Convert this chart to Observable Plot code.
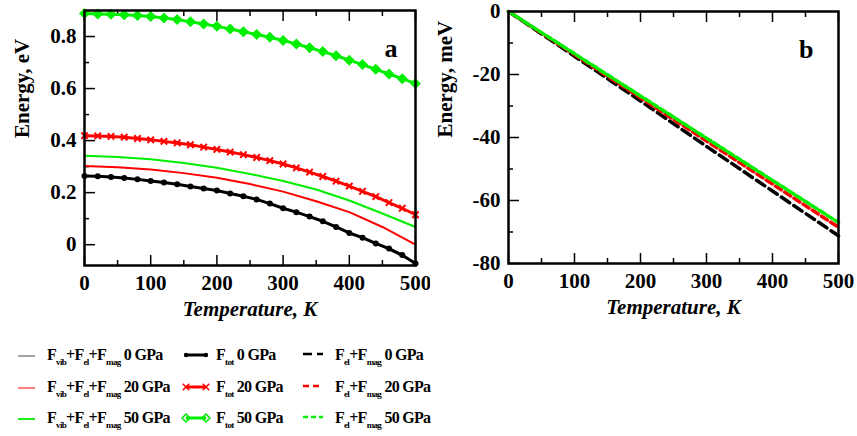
<!DOCTYPE html>
<html><head><meta charset="utf-8">
<script src="https://cdn.jsdelivr.net/npm/d3@7"></script>
<script src="https://cdn.jsdelivr.net/npm/@observablehq/plot@0.6"></script>
<style>
body{margin:0;background:#fff;}
#wrap{position:relative;width:857px;height:436px;background:#fff;overflow:hidden}
#a{position:absolute;left:0;top:0}
#b{position:absolute;left:430px;top:0}
#legend{position:absolute;left:0;top:0}
</style></head><body>
<div id="wrap"><div id="a"></div><div id="b"></div><svg id="legend" width="857" height="436"></svg></div>
<script>
// ---- Panel a data ----
const tMark = [0,20,40,60,80,100,120,140,160,180,200,220,240,260,280,300,320,340,360,380,400,420,440,460,480,500];
const ftot0  = [0.264,0.263,0.260,0.256,0.251,0.245,0.239,0.232,0.224,0.216,0.208,0.197,0.186,0.174,0.158,0.140,0.125,0.108,0.090,0.068,0.045,0.027,0.005,-0.015,-0.040,-0.072];
const ftot20 = [0.419,0.418,0.416,0.413,0.408,0.403,0.397,0.391,0.384,0.375,0.366,0.356,0.346,0.335,0.323,0.310,0.295,0.279,0.262,0.244,0.225,0.205,0.185,0.162,0.140,0.115];
const ftot50 = [0.888,0.887,0.886,0.884,0.881,0.877,0.871,0.865,0.857,0.848,0.839,0.829,0.818,0.808,0.797,0.785,0.771,0.757,0.742,0.726,0.709,0.692,0.674,0.656,0.638,0.619];
const tLine = [0,50,100,150,200,250,300,350,400,450,500];
const fsum0  = [0.264,0.257,0.245,0.228,0.208,0.180,0.140,0.100,0.045,-0.008,-0.072];
const fsum20 = [0.302,0.298,0.289,0.275,0.257,0.233,0.204,0.167,0.125,0.068,0.000];
const fsum50 = [0.342,0.337,0.328,0.314,0.296,0.272,0.245,0.212,0.170,0.120,0.068];
// ---- Panel b data ----
const tB = [0,100,200,300,400,500];
const felmag0  = [0,-14.2,-28.4,-42.8,-57.0,-71.2];
const felmag20 = [0,-13.7,-27.4,-41.1,-54.8,-68.5];
const felmag50 = [0,-13.4,-26.8,-40.2,-53.6,-67.0];
// ---- ticks ----
const xMajor = [0,100,200,300,400,500];
const xMinor = [50,150,250,350,450];
const yMajorA = [0,0.2,0.4,0.6,0.8];
const yMinorA = [0.1,0.3,0.5,0.7];
const yMajorB = [-80,-60,-40,-20,0];
const yMinorB = [-70,-50,-30,-10];

const zip = (xs, ys, s) => xs.map((x,i)=>({t:x, v:ys[i], s}));
const font = '"Liberation Serif", Tinos, "Times New Roman", "DejaVu Serif", serif';
const style = {fontFamily: font, fontSize: "21px", fontWeight: "bold", color: "black", background: "white", overflow: "visible"};

function axes(yMajor, yMinor, yFmt) {
  return [
    Plot.axisX({ticks: xMajor, tickSize: -10, tickPadding: 20, tickFormat: d => String(d), label: null, strokeWidth: 1.5}),
    Plot.axisX({ticks: xMinor, tickSize: -5, tickFormat: () => "", label: null, strokeWidth: 1.5}),
    Plot.axisX({anchor: "top", ticks: xMajor, tickSize: -10, tickFormat: () => "", label: null, strokeWidth: 1.5}),
    Plot.axisX({anchor: "top", ticks: xMinor, tickSize: -5, tickFormat: () => "", label: null, strokeWidth: 1.5}),
    Plot.axisY({ticks: yMajor, tickSize: -11, tickPadding: 19, tickFormat: yFmt, label: null, strokeWidth: 1.5}),
    Plot.axisY({ticks: yMinor, tickSize: -5, tickFormat: () => "", label: null, strokeWidth: 1.5})
  ];
}

const plotA = Plot.plot({
  width: 430, height: 330,
  marginLeft: 84, marginRight: 15, marginTop: 10, marginBottom: 65,
  x: {domain: [0,500]},
  y: {domain: [-0.08, 0.9]},
  style,
  marks: [
    ...axes(yMajorA, yMinorA, d => d === 0 ? "0" : d.toFixed(1)),
    Plot.line(zip(tLine, fsum0), {x:"t", y:"v", stroke:"#999", strokeWidth:1.5}),
    Plot.line(zip(tLine, fsum20), {x:"t", y:"v", stroke:"#ff0000", strokeWidth:2}),
    Plot.line(zip(tLine, fsum50), {x:"t", y:"v", stroke:"#00ee00", strokeWidth:2}),
    Plot.line(zip(tMark, ftot0), {x:"t", y:"v", stroke:"black", strokeWidth:3}),
    Plot.dot(zip(tMark, ftot0), {x:"t", y:"v", fill:"black", r:3}),
    Plot.line(zip(tMark, ftot20), {x:"t", y:"v", stroke:"#ff0000", strokeWidth:3}),
    Plot.dot(zip(tMark, ftot20), {x:"t", y:"v", symbol:"times", stroke:"#ff0000", strokeWidth:2, r:3}),
    Plot.line(zip(tMark, ftot50), {x:"t", y:"v", stroke:"#00ee00", strokeWidth:3}),
    Plot.dot(zip(tMark, ftot50), {x:"t", y:"v", symbol:"diamond2", fill:"#00ee00", stroke:"#00ee00", r:4}),
    Plot.frame({stroke:"black", strokeWidth:2.5}),
    Plot.text(["a"], {frameAnchor:"top-right", dx:-18, dy:28, fontSize:26, fontWeight:"bold", fontFamily:font}),
    Plot.text(["Energy, eV"], {frameAnchor:"left", dx:-62, rotate:-90, fontSize:21, fontWeight:"bold", fontFamily:font}),
    Plot.text(["Temperature, K"], {frameAnchor:"bottom", dy:50, fontSize:21, fontWeight:"bold", fontStyle:"italic", fontFamily:font})
  ]
});
document.getElementById("a").append(plotA);

const plotB = Plot.plot({
  width: 427, height: 330,
  marginLeft: 78, marginRight: 19, marginTop: 11, marginBottom: 67,
  x: {domain: [0,500]},
  y: {domain: [-80, 0]},
  style,
  marks: [
    ...axes(yMajorB, yMinorB, d => String(d)),
    Plot.line(zip(tB, felmag0), {x:"t", y:"v", stroke:"black", strokeWidth:3.5, strokeDasharray:"10,5"}),
    Plot.line(zip(tB, felmag20), {x:"t", y:"v", stroke:"#ff0000", strokeWidth:3.5, strokeDasharray:"7,4"}),
    Plot.line(zip(tB, felmag50), {x:"t", y:"v", stroke:"#00ee00", strokeWidth:3.5, strokeDasharray:"6,3"}),
    Plot.frame({stroke:"black", strokeWidth:2.5}),
    Plot.text(["b"], {frameAnchor:"top-right", dx:-25, dy:28, fontSize:26, fontWeight:"bold", fontFamily:font}),
    Plot.text(["Energy, meV"], {frameAnchor:"left", dx:-63, rotate:-90, fontSize:21, fontWeight:"bold", fontFamily:font}),
    Plot.text(["Temperature, K"], {frameAnchor:"bottom", dy:50, fontSize:21, fontWeight:"bold", fontStyle:"italic", fontFamily:font})
  ]
});
document.getElementById("b").append(plotB);

// ---- Legend ----
const pressures = ["0 GPa", "20 GPa", "50 GPa"];
const sumColors = ["#999", "#ff7070", "#00ee00"];
const totColors = ["black", "#ff0000", "#00ee00"];
const dashPatterns = ["9,5", "6,4", "5,3"];
const rowY = [360, 392, 423];

const svg = d3.select("#legend");
function label(g, x, y, parts) {
  const t = g.append("text").attr("x", x).attr("y", y)
    .attr("font-family", font).attr("font-weight", "bold").attr("font-size", 16)
    .attr("letter-spacing", "-0.7px");
  let low = false;
  parts.forEach(([s, sub]) => {
    if (sub) { t.append("tspan").attr("font-size", 9).attr("dy", low ? 0 : 5).text(s); low = true; }
    else { t.append("tspan").attr("dy", low ? -5 : 0).text(s); low = false; }
  });
}
pressures.forEach((p, i) => {
  const y = rowY[i];
  svg.append("line").attr("x1", 18).attr("x2", 35).attr("y1", y - 4).attr("y2", y - 4)
    .attr("stroke", sumColors[i]).attr("stroke-width", 1.8);
  label(svg, 47, y, [["F"],["vib",1],["+F"],["el",1],["+F"],["mag",1],[" " + p]]);

  svg.append("line").attr("x1", 186).attr("x2", 206).attr("y1", y - 5).attr("y2", y - 5)
    .attr("stroke", totColors[i]).attr("stroke-width", 3);
  if (i === 0) {
    [186, 206].forEach(cx => svg.append("circle").attr("cx", cx).attr("cy", y - 5).attr("r", 2.2).attr("fill", "black"));
  } else if (i === 1) {
    [186, 206].forEach(cx => svg.append("path").attr("d", d3.symbol(d3.symbolTimes, 30)()).attr("transform", `translate(${cx},${y-5})`).attr("stroke", "#ff0000").attr("stroke-width", 1.5).attr("fill", "none"));
  } else {
    [186, 206].forEach(cx => svg.append("path").attr("d", d3.symbol(d3.symbolDiamond2, 40)()).attr("transform", `translate(${cx},${y-5})`).attr("stroke", "#00ee00").attr("stroke-width", 1.5).attr("fill", "none"));
  }
  label(svg, 216, y, [["F"],["tot",1],[" " + p]]);

  svg.append("line").attr("x1", 303).attr("x2", 323).attr("y1", y - 6).attr("y2", y - 6)
    .attr("stroke", totColors[i]).attr("stroke-width", 2.5).attr("stroke-dasharray", dashPatterns[i]);
  label(svg, 335, y, [["F"],["el",1],["+F"],["mag",1],[" " + p]]);
});
</script>
</body></html>
